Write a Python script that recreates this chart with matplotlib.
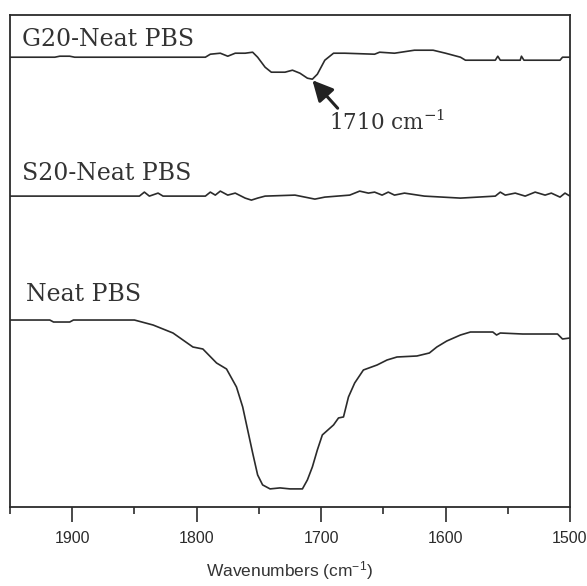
"""FTIR carbonyl region: Neat PBS and difference spectra (G20, S20)."""

import matplotlib
matplotlib.use("Agg")
import matplotlib.pyplot as plt
from matplotlib.ticker import MultipleLocator

# wavenumber (cm-1) / offset intensity (a.u.)
g20_wn = [1950, 1914, 1910, 1902, 1898, 1793, 1789, 1781, 1775, 1769, 1761, 1755,
          1751, 1745, 1740, 1729, 1723, 1717, 1711, 1707, 1703, 1697, 1690, 1681,
          1657, 1653, 1641, 1625, 1610, 1600, 1588, 1584, 1560, 1558, 1556, 1540,
          1539, 1537, 1508, 1506, 1500]
g20_y = [450, 450, 451, 451, 450, 450, 453, 454, 451, 454, 454, 455,
         450, 440, 435, 435, 437, 434, 429, 428, 433, 447, 454, 454,
         453, 455, 454, 457, 457, 454, 450, 447, 447, 451, 447, 447,
         451, 447, 447, 450, 450]

s20_wn = [1950, 1846, 1842, 1838, 1831, 1827, 1793, 1789, 1785, 1781, 1775, 1769,
          1761, 1756, 1751, 1745, 1721, 1713, 1705, 1697, 1677, 1669, 1662, 1657,
          1651, 1646, 1641, 1633, 1617, 1588, 1560, 1556, 1552, 1544, 1536, 1528,
          1520, 1515, 1508, 1504, 1500]
s20_y = [311, 311, 315, 311, 314, 311, 311, 315, 312, 316, 312, 314,
         309, 307, 309, 311, 312, 310, 308, 310, 312, 316, 314, 315,
         312, 315, 312, 314, 311, 309, 311, 315, 312, 314, 311, 315,
         312, 314, 310, 314, 311]

neat_wn = [1950, 1918, 1915, 1902, 1899, 1850, 1835, 1819, 1803, 1795, 1784, 1776,
           1768, 1763, 1759, 1755, 1751, 1747, 1741, 1733, 1725, 1715, 1711, 1707,
           1703, 1699, 1690, 1686, 1682, 1678, 1673, 1666, 1655, 1647, 1639, 1623,
           1613, 1607, 1599, 1588, 1580, 1562, 1559, 1556, 1538, 1510, 1506, 1500]
neat_y = [187, 187, 185, 185, 187, 187, 182, 174, 160, 158, 144, 138,
          120, 100, 77, 54, 32, 22, 18, 19, 18, 18, 27, 40,
          57, 72, 82, 89, 90, 110, 124, 137, 142, 147, 150, 151,
          154, 160, 166, 172, 175, 175, 172, 174, 173, 173, 168, 169]

LINE = "#2b2b2b"
SERIF = ["DejaVu Serif"]

plt.rcParams["mathtext.fontset"] = "dejavuserif"

fig = plt.figure(figsize=(5.87, 5.86), dpi=100)
ax = fig.add_axes([0.017, 0.135, 0.954, 0.839])

for wn, y in [(g20_wn, g20_y), (s20_wn, s20_y), (neat_wn, neat_y)]:
    ax.plot(wn, y, color=LINE, lw=1.2)

ax.set_xlim(1950, 1500)
ax.set_ylim(0, 492)
ax.set_yticks([])
ax.xaxis.set_major_locator(MultipleLocator(100))
ax.xaxis.set_minor_locator(MultipleLocator(50))
ax.tick_params(axis="x", which="major", direction="out", length=11, width=1.2,
               pad=6, colors=LINE, labelsize=11.5)
ax.tick_params(axis="x", which="minor", direction="out", length=5, width=1.2,
               colors=LINE)
for lab in ax.get_xticklabels():
    lab.set_family("Liberation Sans")
for sp in ax.spines.values():
    sp.set_color(LINE)
    sp.set_linewidth(1.3)

ax.text(1940, 468, "G20-Neat PBS", family=SERIF, fontsize=17, color="#333333",
        va="center", ha="left")
ax.text(1940, 334, "S20-Neat PBS", family=SERIF, fontsize=17, color="#333333",
        va="center", ha="left")
ax.text(1937, 213, "Neat PBS", family=SERIF, fontsize=17, color="#333333",
        va="center", ha="left")

ax.annotate("1710 cm$^{-1}$", xy=(1707, 427), xytext=(1694, 384),
            fontsize=15.5, family=SERIF, color="#333333", ha="left", va="center",
            arrowprops=dict(arrowstyle="-|>,head_length=0.8,head_width=0.4",
                            color="#222222", lw=2.2, shrinkA=0, shrinkB=0,
                            relpos=(0.1, 1.0)))

ax.set_xlabel("Wavenumbers (cm$^{\\mathregular{-1}}$)", family="Liberation Sans",
              fontsize=12.5, color="#333333", labelpad=10)

fig.savefig("out.png", dpi=100)
